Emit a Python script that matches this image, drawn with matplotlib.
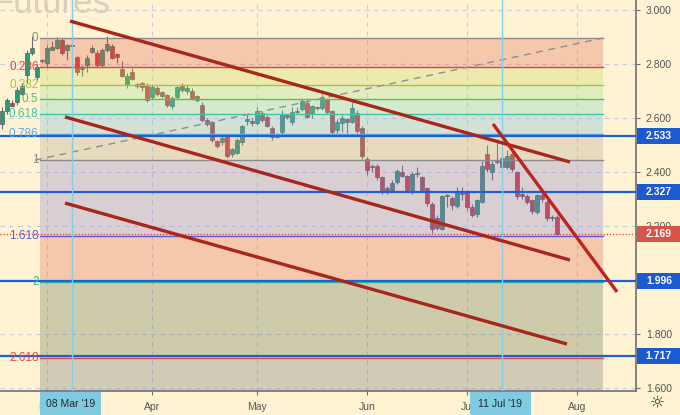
import numpy as np
import pandas as pd
import matplotlib
matplotlib.use('Agg')
import matplotlib.pyplot as plt
import matplotlib.transforms as mtransforms
from matplotlib.patches import Rectangle

plt.rcParams['font.family'] = ['Liberation Sans', 'DejaVu Sans']

# daily candles, 18 Feb .. 26 Jul 2019 (bar index = trading day)
opens = [2.577, 2.625, 2.655, 2.660, 2.690, 2.760, 2.842, 2.753, 2.812, 2.805,
         2.853, 2.860, 2.890, 2.853, 2.868, 2.827, 2.780, 2.798, 2.846, 2.840,
         2.797, 2.850, 2.868, 2.837, 2.783, 2.724, 2.772, 2.725, 2.730, 2.724,
         2.676, 2.710, 2.695, 2.684, 2.643, 2.676, 2.717, 2.700, 2.700, 2.680,
         2.650, 2.592, 2.585, 2.515, 2.510, 2.530, 2.466, 2.470, 2.510, 2.590,
         2.590, 2.580, 2.617, 2.603, 2.563, 2.530, 2.548, 2.610, 2.585, 2.622,
         2.632, 2.655, 2.615, 2.638, 2.636, 2.669, 2.625, 2.555, 2.580, 2.598,
         2.585, 2.620, 2.562, 2.449, 2.420, 2.424, 2.380, 2.340, 2.335, 2.364,
         2.400, 2.386, 2.332, 2.393, 2.380, 2.340, 2.283, 2.228, 2.190, 2.310,
         2.302, 2.275, 2.327, 2.330, 2.272, 2.245, 2.290, 2.466, 2.400, 2.437,
         2.452, 2.418, 2.465, 2.400, 2.320, 2.312, 2.295, 2.252, 2.316, 2.290,
         2.230, 2.235]
highs = [2.640, 2.675, 2.665, 2.715, 2.730, 2.850, 2.905, 2.800, 2.820, 2.870,
         2.885, 2.900, 2.895, 2.875, 2.875, 2.830, 2.795, 2.835, 2.870, 2.850,
         2.860, 2.905, 2.875, 2.840, 2.810, 2.765, 2.785, 2.730, 2.735, 2.730,
         2.725, 2.720, 2.700, 2.690, 2.680, 2.720, 2.730, 2.725, 2.710, 2.685,
         2.660, 2.600, 2.590, 2.520, 2.535, 2.535, 2.490, 2.525, 2.575, 2.610,
         2.600, 2.640, 2.625, 2.610, 2.570, 2.545, 2.630, 2.615, 2.640, 2.640,
         2.670, 2.665, 2.650, 2.645, 2.690, 2.675, 2.630, 2.595, 2.610, 2.600,
         2.660, 2.630, 2.570, 2.455, 2.430, 2.430, 2.385, 2.350, 2.370, 2.410,
         2.425, 2.390, 2.400, 2.420, 2.385, 2.345, 2.290, 2.240, 2.315, 2.320,
         2.310, 2.345, 2.345, 2.335, 2.280, 2.300, 2.440, 2.500, 2.440, 2.522,
         2.470, 2.480, 2.470, 2.405, 2.345, 2.320, 2.300, 2.320, 2.330, 2.295,
         2.240, 2.240]
lows = [2.560, 2.615, 2.640, 2.650, 2.685, 2.730, 2.835, 2.742, 2.805, 2.790,
        2.850, 2.855, 2.835, 2.816, 2.860, 2.760, 2.755, 2.770, 2.840, 2.790,
        2.790, 2.845, 2.820, 2.805, 2.750, 2.710, 2.740, 2.710, 2.700, 2.660,
        2.670, 2.680, 2.675, 2.640, 2.635, 2.670, 2.695, 2.690, 2.665, 2.660,
        2.585, 2.570, 2.510, 2.490, 2.500, 2.452, 2.455, 2.465, 2.500, 2.575,
        2.570, 2.575, 2.585, 2.565, 2.520, 2.525, 2.540, 2.595, 2.575, 2.615,
        2.625, 2.600, 2.600, 2.630, 2.630, 2.615, 2.540, 2.545, 2.550, 2.545,
        2.580, 2.545, 2.450, 2.390, 2.400, 2.370, 2.320, 2.320, 2.330, 2.355,
        2.380, 2.325, 2.320, 2.380, 2.325, 2.275, 2.173, 2.185, 2.185, 2.270,
        2.260, 2.265, 2.295, 2.260, 2.235, 2.235, 2.285, 2.400, 2.370, 2.430,
        2.410, 2.410, 2.400, 2.300, 2.300, 2.280, 2.245, 2.245, 2.290, 2.220,
        2.220, 2.165]
closes = [2.625, 2.665, 2.645, 2.705, 2.720, 2.840, 2.860, 2.790, 2.814, 2.860,
          2.864, 2.890, 2.840, 2.869, 2.866, 2.772, 2.787, 2.823, 2.860, 2.797,
          2.853, 2.875, 2.824, 2.826, 2.757, 2.757, 2.746, 2.717, 2.715, 2.665,
          2.713, 2.688, 2.680, 2.647, 2.673, 2.713, 2.702, 2.710, 2.670, 2.668,
          2.592, 2.577, 2.520, 2.497, 2.527, 2.460, 2.485, 2.520, 2.570, 2.598,
          2.580, 2.625, 2.592, 2.570, 2.530, 2.537, 2.614, 2.602, 2.622, 2.627,
          2.662, 2.603, 2.643, 2.640, 2.676, 2.621, 2.548, 2.585, 2.600, 2.585,
          2.636, 2.552, 2.460, 2.408, 2.424, 2.382, 2.332, 2.334, 2.360, 2.404,
          2.386, 2.332, 2.393, 2.395, 2.332, 2.285, 2.190, 2.192, 2.310, 2.312,
          2.276, 2.327, 2.320, 2.270, 2.240, 2.295, 2.423, 2.412, 2.430, 2.445,
          2.420, 2.460, 2.410, 2.310, 2.310, 2.290, 2.254, 2.316, 2.300, 2.228,
          2.235, 2.169]

holidays = ['2019-04-19', '2019-05-27', '2019-07-04']
days = pd.bdate_range('2019-02-18', '2019-08-30')
days = days[~days.isin(pd.to_datetime(holidays))]

month_names = ['Mar', 'Apr', 'May', 'Jun', 'Jul', 'Aug']
marked_days = ['2019-03-08', '2019-07-11']
marked_labels = ["08 Mar '19", "11 Jul '19"]

# fibonacci extension
fib_top, fib_one = 2.896, 2.444
fib_start, fib_end = 7.6, 120.2
fib_levels = [0, 0.236, 0.382, 0.5, 0.618, 0.786, 1, 1.618, 2, 2.618]
fib_labels = ['0', '0.236', '0.382', '0.5', '0.618', '0.786', '1', '1.618', '2', '2.618']
fib_line_colors = ['#8a8a8a', '#e8413c', '#a6c43a', '#55c24a', '#3cc8a6',
                   '#5aa8e6', '#8a8a8a', '#5a5ae0', '#2fbf9c', '#e04848']
fib_zone_colors = ['#de644f', '#c6d55c', '#9ee291', '#76d5c0', '#70badb',
                   '#b2a691', '#837ed3', '#de644f', '#5c714f', '#6c7473']

levels_blue = [2.533, 2.327, 1.996, 1.717]
last_price = 2.169

# trend lines: (bar index, price) pairs
channel_lines = [[(13.6, 2.959), (113.6, 2.437)],
                 [(12.6, 2.604), (113.6, 2.074)],
                 [(12.6, 2.285), (113.0, 1.763)]]
steep_line = [(98.2, 2.578), (123.0, 1.956)]
fib_diag = [(6.6, 2.444), (120.2, 2.896)]

bg = '#fff3d4'
up_col, dn_col = '#2a9a7a', '#d8383a'

fig = plt.figure(figsize=(6.8, 4.15), dpi=100, facecolor=bg)
ax = fig.add_axes([0, 24 / 415, 636 / 680, 391 / 415], facecolor=bg)
ax.set_xlim(-0.4, 126.8)
ax.set_ylim(1.589, 3.037)

# grid
ax.set_yticks(np.arange(1.6, 3.01, 0.2))
ax.yaxis.set_major_formatter(plt.FormatStrFormatter('%.3f'))
month_pos = [np.argmax(days.month == m) for m in [3, 4, 5, 6, 7, 8]]
ax.set_xticks(month_pos)
ax.set_xticklabels(month_names)
ax.grid(True, color='#c9cbe0', linestyle=(0, (4, 4)), linewidth=0.8, zorder=0.5)
ax.set_axisbelow(True)

# candles
x = np.arange(len(closes))
o, h, l, c = map(np.array, (opens, highs, lows, closes))
cols = np.where(c >= o, up_col, dn_col)
ax.vlines(x, l, h, color='#6b6b6b', linewidth=0.8, zorder=2)
body = np.maximum(np.abs(c - o), 0.004)
ax.bar(x, body, bottom=np.minimum(o, c), width=0.75, color=cols,
       edgecolor='#4a4a4a', linewidth=0.4, zorder=2.1)

# fib zones and lines
rng = fib_top - fib_one
prices = [fib_top - lv * rng for lv in fib_levels]
bounds = prices + [ax.get_ylim()[0]]
for k, col in enumerate(fib_zone_colors):
    ax.fill_between([fib_start, fib_end], bounds[k + 1], bounds[k],
                    color=col, alpha=0.3, linewidth=0, zorder=3)
for p, lab, col in zip(prices, fib_labels, fib_line_colors):
    ax.plot([fib_start, fib_end], [p, p], color=col, linewidth=1, zorder=3.5)
    ax.text(fib_start - 0.3, p, lab, color=col, fontsize=8.5,
            ha='right', va='center', zorder=6)

(dx0, dy0), (dx1, dy1) = fib_diag
ax.plot([dx0, dx1], [dy0, dy1], color='#8f8f8f', linestyle=(0, (5, 4)),
        linewidth=1, zorder=3.6)

# horizontal levels
for p in levels_blue:
    ax.axhline(p, color='#1f5fd1', linewidth=1.6, zorder=4)
ax.axhline(last_price, color='#e03a3a', linewidth=0.9, linestyle=(0, (1, 1.5)), zorder=4)

# crosshair verticals
marked_pos = [int(np.where(days == pd.Timestamp(d))[0][0]) for d in marked_days]
for mp in marked_pos:
    ax.axvline(mp, color='#86cde6', linewidth=1, zorder=4.5)

# trend lines
for (x0, y0), (x1, y1) in channel_lines:
    ax.plot([x0, x1], [y0, y1], color='#a8261a', linewidth=2.4,
            solid_capstyle='butt', zorder=5)
(sx0, sy0), (sx1, sy1) = steep_line
ax.plot([sx0, sx1], [sy0, sy1], color='#c0221c', linewidth=2.4,
        solid_capstyle='butt', zorder=5)

# axes styling
for s in ['left', 'top']:
    ax.spines[s].set_visible(False)
for s in ['right', 'bottom']:
    ax.spines[s].set_color('#6e6e6e')
    ax.spines[s].set_linewidth(1.2)
ax.yaxis.tick_right()
ax.tick_params(axis='y', length=3, pad=4, colors='#6e6e6e', labelcolor='#555555',
               labelsize=7.5)
ax.tick_params(axis='x', length=3, pad=5, colors='#6e6e6e', labelcolor='#555555',
               labelsize=7.5)

# price boxes on the right axis
ytr = ax.get_yaxis_transform()
bh = 16 / 270
bw = 44 / 636
for p, col in [(v, '#1c5bcf') for v in levels_blue] + [(last_price, '#d9534a')]:
    ax.add_patch(Rectangle((1.0015, p - bh / 2), bw, bh, transform=ytr,
                           facecolor=col, edgecolor='none', clip_on=False, zorder=10))
    ax.text(1.0015 + bw / 2, p, '%.3f' % p, transform=ytr, color='white',
            fontsize=7.5, fontweight='bold', ha='center', va='center',
            clip_on=False, zorder=11)

# date boxes on the time axis
xtr = mtransforms.blended_transform_factory(ax.transData, fig.transFigure)
for mp, lab in zip(marked_pos, marked_labels):
    ax.add_patch(Rectangle((mp - 6.4, 0), 12.2, 23 / 415, transform=xtr,
                           facecolor='#7fcbe2', edgecolor='none', clip_on=False, zorder=10))
    ax.text(mp - 0.3, 11 / 415, lab, transform=xtr, color='#1f2a33', fontsize=7.5,
            ha='center', va='center', clip_on=False, zorder=11)

# watermark
ax.text(110 / 636, 1 - 13 / 391, 'Futures', transform=ax.transAxes, fontsize=25,
        color='#d8d0bc', ha='right', va='baseline', zorder=1)

fig.text(657 / 680, 1 - 403 / 415, '\u263c', fontsize=12, color='#333333',
         ha='center', va='center', family='DejaVu Sans')

fig.savefig('out.png', dpi=100, facecolor=bg)
